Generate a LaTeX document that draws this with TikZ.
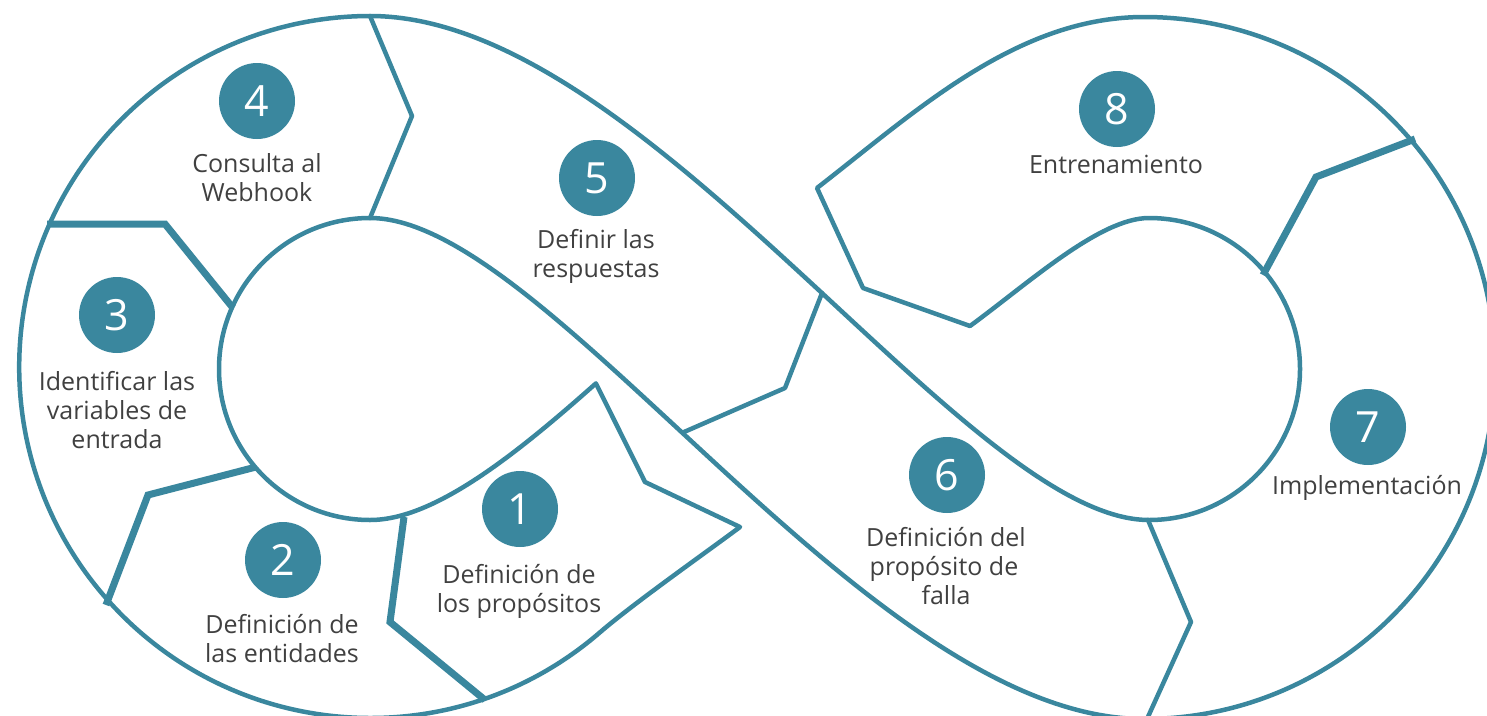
\documentclass[tikz,border=0pt]{standalone}
\usepackage{fontspec}
\setmainfont{Open Sans}
\definecolor{tealA}{RGB}{58,135,158}
\definecolor{txtA}{RGB}{64,64,64}
\begin{document}
\begin{tikzpicture}[x=1pt,y=1pt,yscale=-1,
  edge/.style={draw=tealA,line width=4.5pt,line join=round,line cap=round},
  thickedge/.style={draw=tealA,line width=7pt,line join=miter},
  numcirc/.style={circle,fill=tealA,minimum size=76pt,inner sep=0pt,text=white,font=\fontsize{43}{43}\selectfont},
  lbl/.style={anchor=base,inner sep=0pt,text=txtA,font=\fontsize{25}{29}\selectfont}]
\useasboundingbox (0,0) rectangle (1487,715);
\clip (0,0) rectangle (1487,715);
% infinity band outline
\draw[edge] (600,632.3) arc[start angle=49.1, end angle=270, radius=351pt]
  .. controls (647,16) and (966,520) .. (1149,520)
  arc[start angle=90, end angle=-90, radius=151pt]
  .. controls (1100,218) and (1030,282) .. (970,326)
  -- (863,288) -- (817,188)
  .. controls (914,113) and (1016,17) .. (1144,17)
  arc[start angle=-90, end angle=90, radius=351pt]
  .. controls (868,719) and (550,218) .. (370,218)
  arc[start angle=-90, end angle=-270, radius=151pt]
  .. controls (431.6,520) and (509.3,460.5) .. (595.9,383.4)
  -- (645,482) -- (740,527)
  .. controls (708,551) and (634,603) .. (600,632.3);
% separators
\draw[edge] (370,16) -- (412,116) -- (370,218);
\draw[thickedge] (47,224) -- (165,224) -- (233,308);
\draw[thickedge] (256,467) -- (148,495) -- (106,605);
\draw[thickedge] (404,517) -- (390,622) -- (485,700);
\draw[edge] (822,293) -- (785,388) -- (684,432);
\draw[edge] (1148,520) -- (1191,622) -- (1147,719);
\draw[thickedge] (1263,275) -- (1316,177) -- (1415,139);
% numbers
\node[numcirc] (n1) at (520,509) {1};
\node[numcirc] (n2) at (283,560) {2};
\node[numcirc] (n3) at (117,315) {3};
\node[numcirc] (n4) at (257,101) {4};
\node[numcirc] (n5) at (597,178) {5};
\node[numcirc] (n6) at (947,475) {6};
\node[numcirc] (n7) at (1368,427) {7};
\node[numcirc] (n8) at (1117,109) {8};
% labels
\node[lbl] (t1a) at (519,583) {Definición de};
\node[lbl] (t1b) at (519,612) {los propósitos};
\node[lbl] (t2a) at (282,633) {Definición de};
\node[lbl] (t2b) at (282,662) {las entidades};
\node[lbl] (t3a) at (117,390) {Identificar las};
\node[lbl] (t3b) at (117,419) {variables de};
\node[lbl] (t3c) at (117,448) {entrada};
\node[lbl] (t4a) at (257,172) {Consulta al};
\node[lbl] (t4b) at (257,201) {Webhook};
\node[lbl] (t5a) at (596,248) {Definir las};
\node[lbl] (t5b) at (596,277) {respuestas};
\node[lbl] (t6a) at (946,546) {Definición del};
\node[lbl] (t6b) at (944,575) {propósito de};
\node[lbl] (t6c) at (946,604) {falla};
\node[lbl] (t7) at (1367,494) {Implementación};
\node[lbl] (t8) at (1116,173) {Entrenamiento};
\end{tikzpicture}
\end{document}
